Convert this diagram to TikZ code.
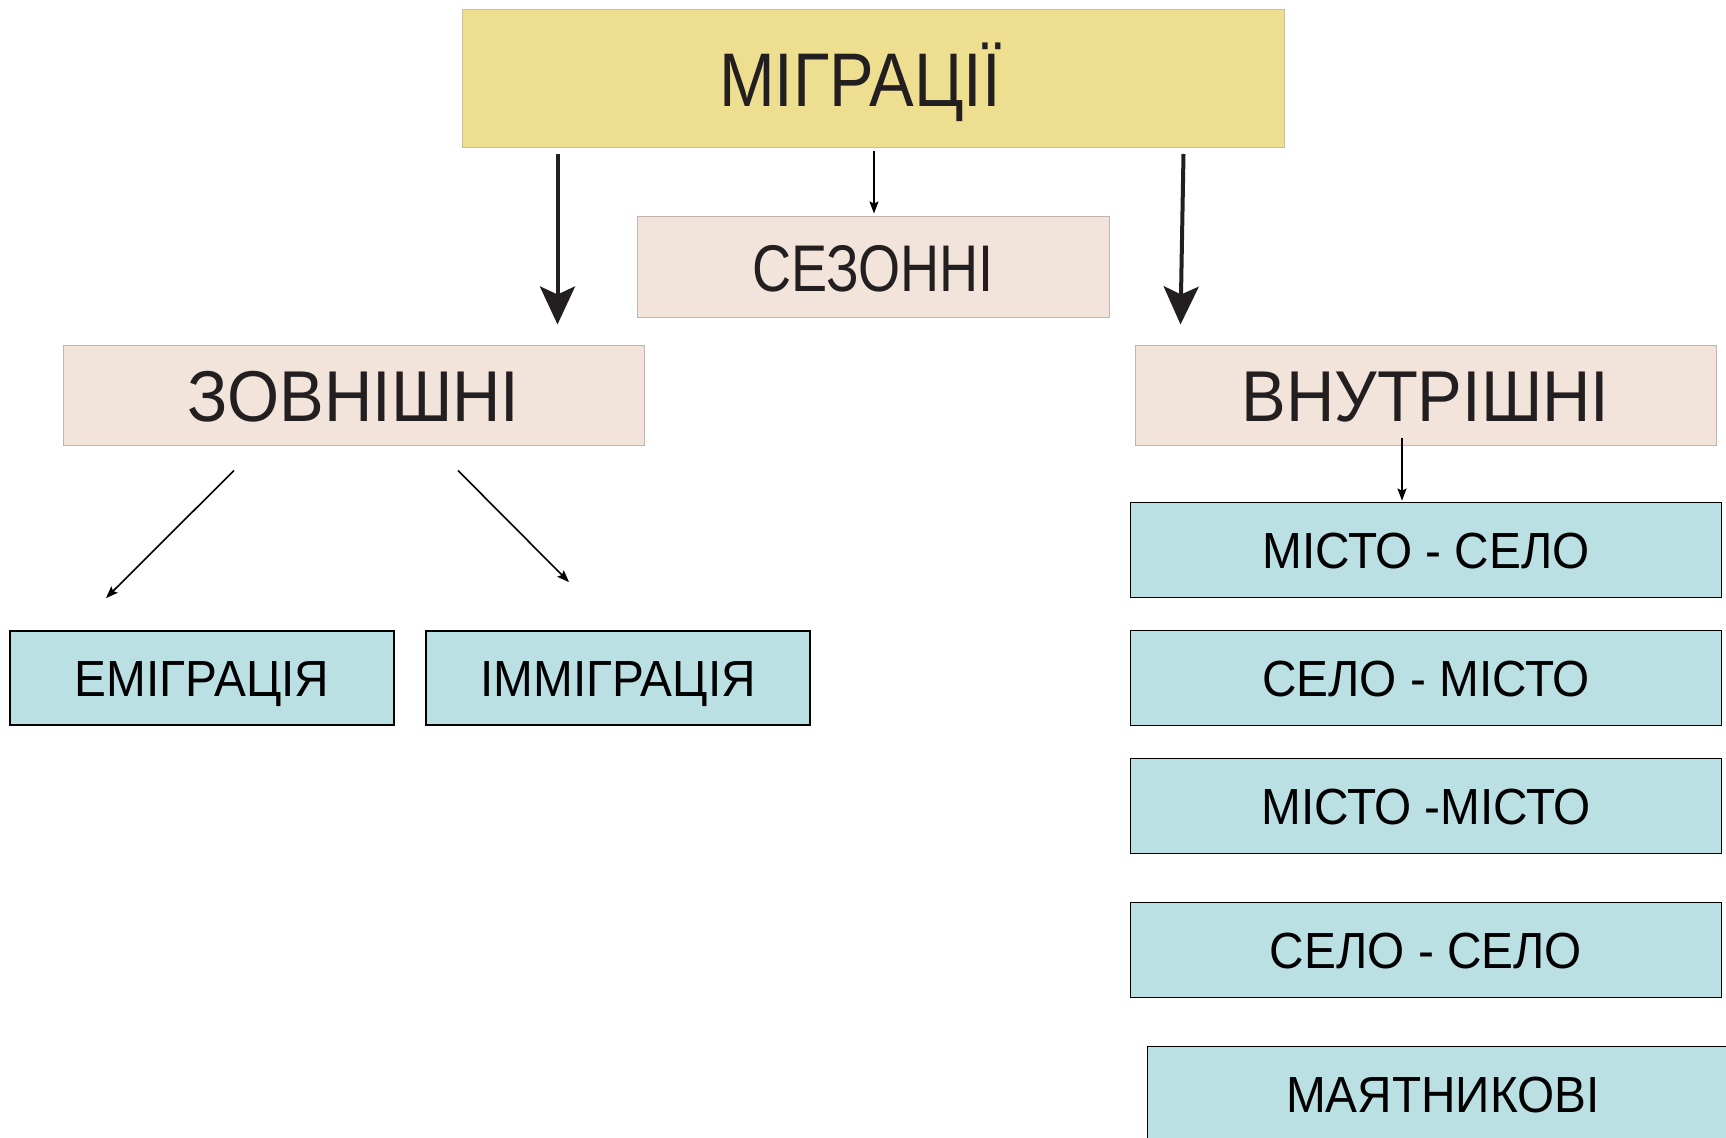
\documentclass[tikz,border=0pt]{standalone}
\usepackage{fontspec}
\setmainfont{Liberation Sans}
\newfontfamily\narrowsans[FakeStretch=0.82]{Liberation Sans}
\newfontfamily\titlesans[FakeStretch=0.88]{Liberation Sans}
\newfontfamily\boxsans[FakeStretch=0.93]{Liberation Sans}
\newfontfamily\typesans[FakeStretch=0.94]{Liberation Sans}
\usepackage{xcolor}
\usepackage{tikz}
\usetikzlibrary{calc}
\usetikzlibrary{arrows.meta}
\definecolor{titleyellow}{HTML}{EDDF8F}
\definecolor{titleedge}{HTML}{C9C09A}
\definecolor{kindpink}{HTML}{F2E4DA}
\definecolor{kindedge}{HTML}{C2B4AC}
\definecolor{typeblue}{HTML}{BBE0E3}
\definecolor{inkdark}{HTML}{231F20}
\tikzstyle{titlebox} = [draw=titleedge, fill=titleyellow, line width=0.5pt,
rectangle, inner sep=0pt, minimum width=411pt, minimum height=69pt,
text=inkdark, font=\titlesans\fontsize{38}{40}\selectfont, text height=27.5pt, text depth=0pt]
\tikzstyle{kindbox} = [draw=kindedge, fill=kindpink, line width=0.5pt,
rectangle, inner sep=0pt, minimum width=290.5pt, minimum height=50pt,
text=inkdark, font=\boxsans\fontsize{36}{38}\selectfont, text height=25.8pt, text depth=0pt]
\tikzstyle{typebox} = [draw=black, fill=typeblue, line width=0.9pt,
rectangle, inner sep=0pt, minimum width=295.5pt, minimum height=47.5pt,
text=black, font=\typesans\fontsize{25.4}{27}\selectfont, text height=18.2pt, text depth=0pt]
\tikzstyle{bigarrow} = [draw=inkdark, line width=2pt,
-{Stealth[length=19pt, width=17.5pt, inset=4pt]}]
\tikzstyle{thinarrow} = [draw=black, line width=0.8pt,
-{Stealth[length=6pt, width=4.5pt, inset=1pt]}]

\begin{document}
\begin{tikzpicture}[x=0.5pt, y=-0.5pt]
        \clip (0,0) rectangle (1726,1138);
        \fill[white] (0,0) rectangle (1726,1138);
        \node [titlebox] (migr) at (873,79) {\hspace*{-13pt}МІГРАЦІЇ};
        \node [kindbox, minimum width=236pt, minimum height=50.5pt,
            font=\narrowsans\fontsize{33}{35}\selectfont, text height=23.7pt] (sez) at (873,267.5) {СЕЗОННІ};
        \node [kindbox] (zovn) at (353.5,396) {ЗОВНІШНІ};
        \node [kindbox] (vnut) at (1425.5,396) {ВНУТРІШНІ};
        \node [typebox, minimum width=192pt, minimum height=47pt] (emig) at (202,678) {ЕМІГРАЦІЯ};
        \node [typebox, minimum width=192pt, minimum height=47pt] (immig) at (618,678) {ІММІГРАЦІЯ};
        \node [typebox] (ms) at (1426,550) {МІСТО - СЕЛО};
        \node [typebox] (sm) at (1426,678) {СЕЛО - МІСТО};
        \node [typebox] (mm) at (1426,806) {МІСТО -МІСТО};
        \node [typebox] (ss) at (1426,950) {СЕЛО - СЕЛО};
        \node [typebox] (mayat) at (1443,1094) {МАЯТНИКОВІ};
        % arrows
        \draw[bigarrow] ($(migr.south west)+(96,5.5)$) -- ($(zovn.north east)+(-87,-21)$);
        \draw[bigarrow] ($(migr.south east)+(-101,5.5)$) -- ($(vnut.north west)+(46,-21)$);
        \draw[thinarrow] ($(migr.south)+(1,3)$) -- ($(sez.north)+(1,-3)$);
        \draw[thinarrow] ($(vnut.south)+(-23.5,-8)$) -- ($(ms.north)+(-24,-1)$);
        \draw[thinarrow] ($(zovn.south)+(-119.5,24)$) -- ($(emig.north)+(-96,-32)$);
        \draw[thinarrow] ($(zovn.south)+(104.5,24)$) -- ($(immig.north)+(-49,-48)$);
\end{tikzpicture}
\end{document}
